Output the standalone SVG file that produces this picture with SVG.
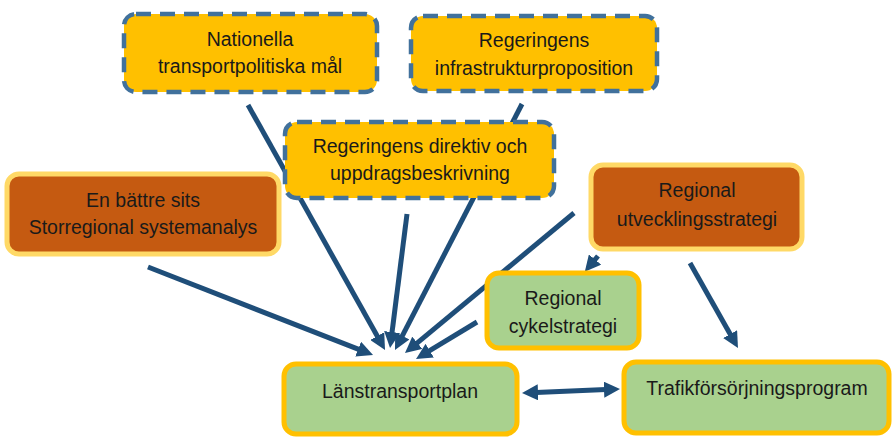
<svg xmlns="http://www.w3.org/2000/svg" width="894" height="441" viewBox="0 0 894 441">
<style>
.t{font-family:"Liberation Sans",Arial,sans-serif;font-size:19.5px;fill:#1a1a1a;text-anchor:middle}
.dash{fill:#FFC000;stroke:#41719C;stroke-width:4.5;stroke-dasharray:15 9}
.org{fill:#C55A11;stroke:#FFD966;stroke-width:5}
.grn{fill:#A9D18E;stroke:#FFC000;stroke-width:5}
.c{stroke:#1F4E79;stroke-width:5;fill:none;marker-end:url(#ah)}
</style>
<defs>
<marker id="ah" viewBox="0 0 16 16" markerWidth="16" markerHeight="16" markerUnits="userSpaceOnUse" refX="2" refY="8" orient="auto-start-reverse">
<path d="M0,0 L16,8 L0,16 z" fill="#1F4E79"/>
</marker>
</defs>
<rect width="894" height="441" fill="#fff"/>
<g id="connectors">
<line class="c" x1="148" y1="267" x2="360" y2="349.9"/>
<line class="c" x1="248" y1="105" x2="378.2" y2="337.8"/>
<line class="c" x1="407" y1="214" x2="391.8" y2="334.1"/>
<line class="c" x1="522" y1="104" x2="401.4" y2="337.6"/>
<line class="c" x1="574" y1="213" x2="415.8" y2="344.1"/>
<line class="c" x1="477" y1="322" x2="428" y2="351.7"/>
<line class="c" x1="598" y1="256" x2="593.75" y2="261.1"/>
<line class="c" x1="690" y1="263" x2="731.1" y2="335.8"/>
<line class="c" x1="536" y1="392.4" x2="606" y2="389.6" marker-start="url(#ah)"/>
</g>
<g id="nationella">
<rect class="dash" x="124" y="14" width="253" height="78" rx="12"/>
<text class="t" x="250" y="46">Nationella</text>
<text class="t" x="250" y="73">transportpolitiska mål</text>
</g>
<g id="infra">
<rect class="dash" x="411" y="16" width="246" height="75" rx="12"/>
<text class="t" x="534" y="47">Regeringens</text>
<text class="t" x="534" y="75">infrastrukturproposition</text>
</g>
<g id="direktiv">
<rect class="dash" x="285" y="122" width="269" height="76" rx="12"/>
<text class="t" x="420" y="153">Regeringens direktiv och</text>
<text class="t" x="420" y="180">uppdragsbeskrivning</text>
</g>
<g id="battre">
<rect class="org" x="7" y="174" width="272" height="80" rx="12"/>
<text class="t" x="143" y="207">En bättre sits</text>
<text class="t" x="143" y="234">Storregional systemanalys</text>
</g>
<g id="utveckling">
<rect class="org" x="591" y="165" width="211" height="84" rx="12"/>
<text class="t" x="697" y="197">Regional</text>
<text class="t" x="697" y="226">utvecklingsstrategi</text>
</g>
<g id="cykel">
<rect class="grn" x="487" y="273" width="152" height="75" rx="12"/>
<text class="t" x="563" y="305">Regional</text>
<text class="t" x="563" y="333">cykelstrategi</text>
</g>
<g id="lans">
<rect class="grn" x="284" y="364" width="233" height="70" rx="12"/>
<text class="t" x="400" y="398">Länstransportplan</text>
</g>
<g id="trafik">
<rect class="grn" x="624" y="362" width="265" height="71" rx="12"/>
<text class="t" x="757" y="395">Trafikförsörjningsprogram</text>
</g>
</svg>
